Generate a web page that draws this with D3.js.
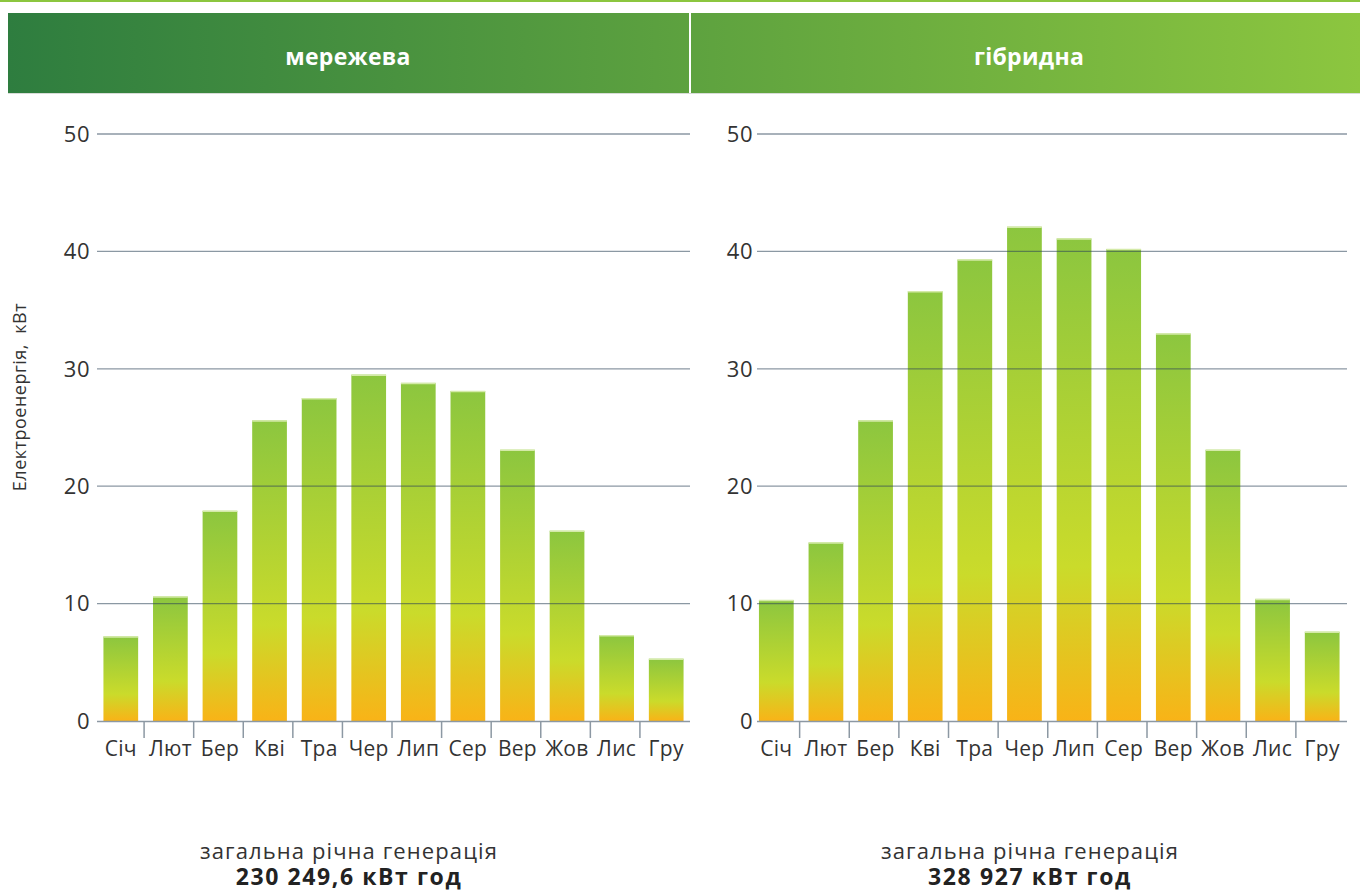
<!DOCTYPE html>
<html>
<head>
<meta charset="utf-8">
<script src="https://cdn.jsdelivr.net/npm/d3@7"></script>
<style>
  html, body { margin: 0; padding: 0; background: #fff; }
  svg { display: block; font-family: 'Open Sans', sans-serif; }
</style>
</head>
<body>
<div id="chart"></div>
<script>
const WIDTH = 1360;
const HEIGHT = 892;

// data
const months = ['Січ', 'Лют', 'Бер', 'Кві', 'Тра', 'Чер', 'Лип', 'Сер', 'Вер', 'Жов', 'Лис', 'Гру'];
const gridValues = [7.2, 10.6, 17.9, 25.6, 27.5, 29.5, 28.8, 28.1, 23.1, 16.2, 7.3, 5.3];
const hybridValues = [10.3, 15.2, 25.6, 36.6, 39.3, 42.1, 41.1, 40.2, 33.0, 23.1, 10.4, 7.6];
const yTicks = [0, 10, 20, 30, 40, 50];
const panelTitles = ['мережева', 'гібридна'];
const totalLabel = 'загальна річна генерація';
const totals = ['230 249,6 кВт год', '328 927 кВт год'];
const yLabel = 'Електроенергія,  кВт';

const TEXT_COLOR = '#333333';
const AXIS_COLOR = '#8c98a3';

const svg = d3.select('#chart')
  .append('svg')
  .attr('width', WIDTH)
  .attr('height', HEIGHT);

const defs = svg.append('defs');

// header gradient runs across both panels
const headGrad = defs.append('linearGradient')
  .attr('id', 'headGrad')
  .attr('gradientUnits', 'userSpaceOnUse')
  .attr('x1', 8).attr('x2', 1360).attr('y1', 0).attr('y2', 0);
headGrad.append('stop').attr('offset', '0%').attr('stop-color', '#2e7d3f');
headGrad.append('stop').attr('offset', '100%').attr('stop-color', '#8cc63f');

// bar gradient, per bar
const barGrad = defs.append('linearGradient')
  .attr('id', 'barGrad')
  .attr('x1', 0).attr('x2', 0).attr('y1', 0).attr('y2', 1);
barGrad.append('stop').attr('offset', '0%').attr('stop-color', '#8cc63f');
barGrad.append('stop').attr('offset', '68%').attr('stop-color', '#cadb2b');
barGrad.append('stop').attr('offset', '100%').attr('stop-color', '#f9b317');

// top accent line
svg.append('rect')
  .attr('x', 0).attr('y', 0)
  .attr('width', WIDTH).attr('height', 2)
  .attr('fill', '#8cc63f');

// header
svg.append('rect')
  .attr('x', 8).attr('y', 13)
  .attr('width', WIDTH - 8).attr('height', 80)
  .attr('fill', 'url(#headGrad)');
svg.append('rect')
  .attr('x', 689).attr('y', 13)
  .attr('width', 2).attr('height', 80)
  .attr('fill', '#ffffff');
svg.append('line')
  .attr('x1', 8).attr('x2', WIDTH)
  .attr('y1', 93.5).attr('y2', 93.5)
  .attr('stroke', '#d8dcd8');

const headerCenters = [348, 1029];
panelTitles.forEach((t, i) => {
  svg.append('text')
    .attr('x', headerCenters[i])
    .attr('y', 57)
    .attr('dy', '0.35em')
    .attr('text-anchor', 'middle')
    .style('fill', '#ffffff')
    .style('font-size', '23px')
    .style('font-weight', 'bold')
    .style('letter-spacing', '0.3px')
    .text(t);
});

const yScale = d3.scaleLinear()
  .domain([0, 50])
  .range([721, 134]);

function drawPanel(values, left, right, gridLeft, gridRight, labelX, textCenter, total) {
  const xScale = d3.scaleBand()
    .domain(months)
    .range([left, right])
    .paddingInner(0.3)
    .paddingOuter(0.15);

  const g = svg.append('g');

  // bars
  g.selectAll('rect.bar')
    .data(values)
    .enter()
    .append('rect')
    .attr('class', 'bar')
    .attr('x', (d, i) => xScale(months[i]))
    .attr('y', (d) => yScale(d))
    .attr('width', xScale.bandwidth())
    .attr('height', (d) => yScale(0) - yScale(d))
    .attr('fill', 'url(#barGrad)');

  // light top edge of bars
  g.selectAll('line.cap')
    .data(values)
    .enter()
    .append('line')
    .attr('x1', (d, i) => xScale(months[i]))
    .attr('x2', (d, i) => xScale(months[i]) + xScale.bandwidth())
    .attr('y1', (d) => yScale(d) + 0.5)
    .attr('y2', (d) => yScale(d) + 0.5)
    .attr('stroke', '#d4eaa8')
    .attr('stroke-width', 1.5);

  // grid lines on top of bars
  g.selectAll('line.grid')
    .data(yTicks.filter((d) => d > 0))
    .enter()
    .append('line')
    .attr('x1', gridLeft)
    .attr('x2', gridRight)
    .attr('y1', (d) => yScale(d))
    .attr('y2', (d) => yScale(d))
    .attr('stroke', '#2c4358')
    .attr('stroke-opacity', 0.55)
    .attr('stroke-width', 1.3);

  // y tick labels
  g.selectAll('text.ytick')
    .data(yTicks)
    .enter()
    .append('text')
    .attr('x', labelX)
    .attr('y', (d) => yScale(d))
    .attr('dy', '0.35em')
    .attr('text-anchor', 'end')
    .style('fill', TEXT_COLOR)
    .style('font-size', '22px')
    .style('letter-spacing', '0.5px')
    .text((d) => d);

  // x axis: baseline, separators between months, labels
  g.append('line')
    .attr('x1', gridLeft)
    .attr('x2', gridRight)
    .attr('y1', yScale(0) + 0.5)
    .attr('y2', yScale(0) + 0.5)
    .attr('stroke', AXIS_COLOR)
    .attr('stroke-width', 1.5);

  const step = xScale.step();
  g.selectAll('line.sep')
    .data(months.slice(1))
    .enter()
    .append('line')
    .attr('x1', (d) => xScale(d) - step * 0.18)
    .attr('x2', (d) => xScale(d) - step * 0.18)
    .attr('y1', yScale(0))
    .attr('y2', yScale(0) + 17)
    .attr('stroke', AXIS_COLOR)
    .attr('stroke-width', 1.5);

  g.selectAll('text.month')
    .data(months)
    .enter()
    .append('text')
    .attr('x', (d) => xScale(d) + xScale.bandwidth() / 2)
    .attr('y', 749)
    .attr('dy', '0.35em')
    .attr('text-anchor', 'middle')
    .style('fill', TEXT_COLOR)
    .style('font-size', '21px')
    .style('letter-spacing', '0.3px')
    .text((d) => d);

  // totals under the chart
  g.append('text')
    .attr('x', textCenter)
    .attr('y', 851)
    .attr('dy', '0.35em')
    .attr('text-anchor', 'middle')
    .style('fill', TEXT_COLOR)
    .style('font-size', '22px')
    .style('letter-spacing', '1.1px')
    .text(totalLabel);

  g.append('text')
    .attr('x', textCenter)
    .attr('y', 877)
    .attr('dy', '0.35em')
    .attr('text-anchor', 'middle')
    .style('fill', '#222222')
    .style('font-size', '23px')
    .style('font-weight', 'bold')
    .style('letter-spacing', '1.6px')
    .text(total);
}

drawPanel(gridValues, 96, 691, 97, 690, 90, 349, totals[0]);
drawPanel(hybridValues, 751.5, 1347, 757, 1347, 753, 1030, totals[1]);

// y axis title
svg.append('text')
  .attr('transform', 'translate(20,397) rotate(-90)')
  .attr('dy', '0.35em')
  .attr('text-anchor', 'middle')
  .style('fill', TEXT_COLOR)
  .style('font-size', '18px')
  .style('letter-spacing', '0.5px')
  .style('white-space', 'pre')
  .text(yLabel);
</script>
</body>
</html>
